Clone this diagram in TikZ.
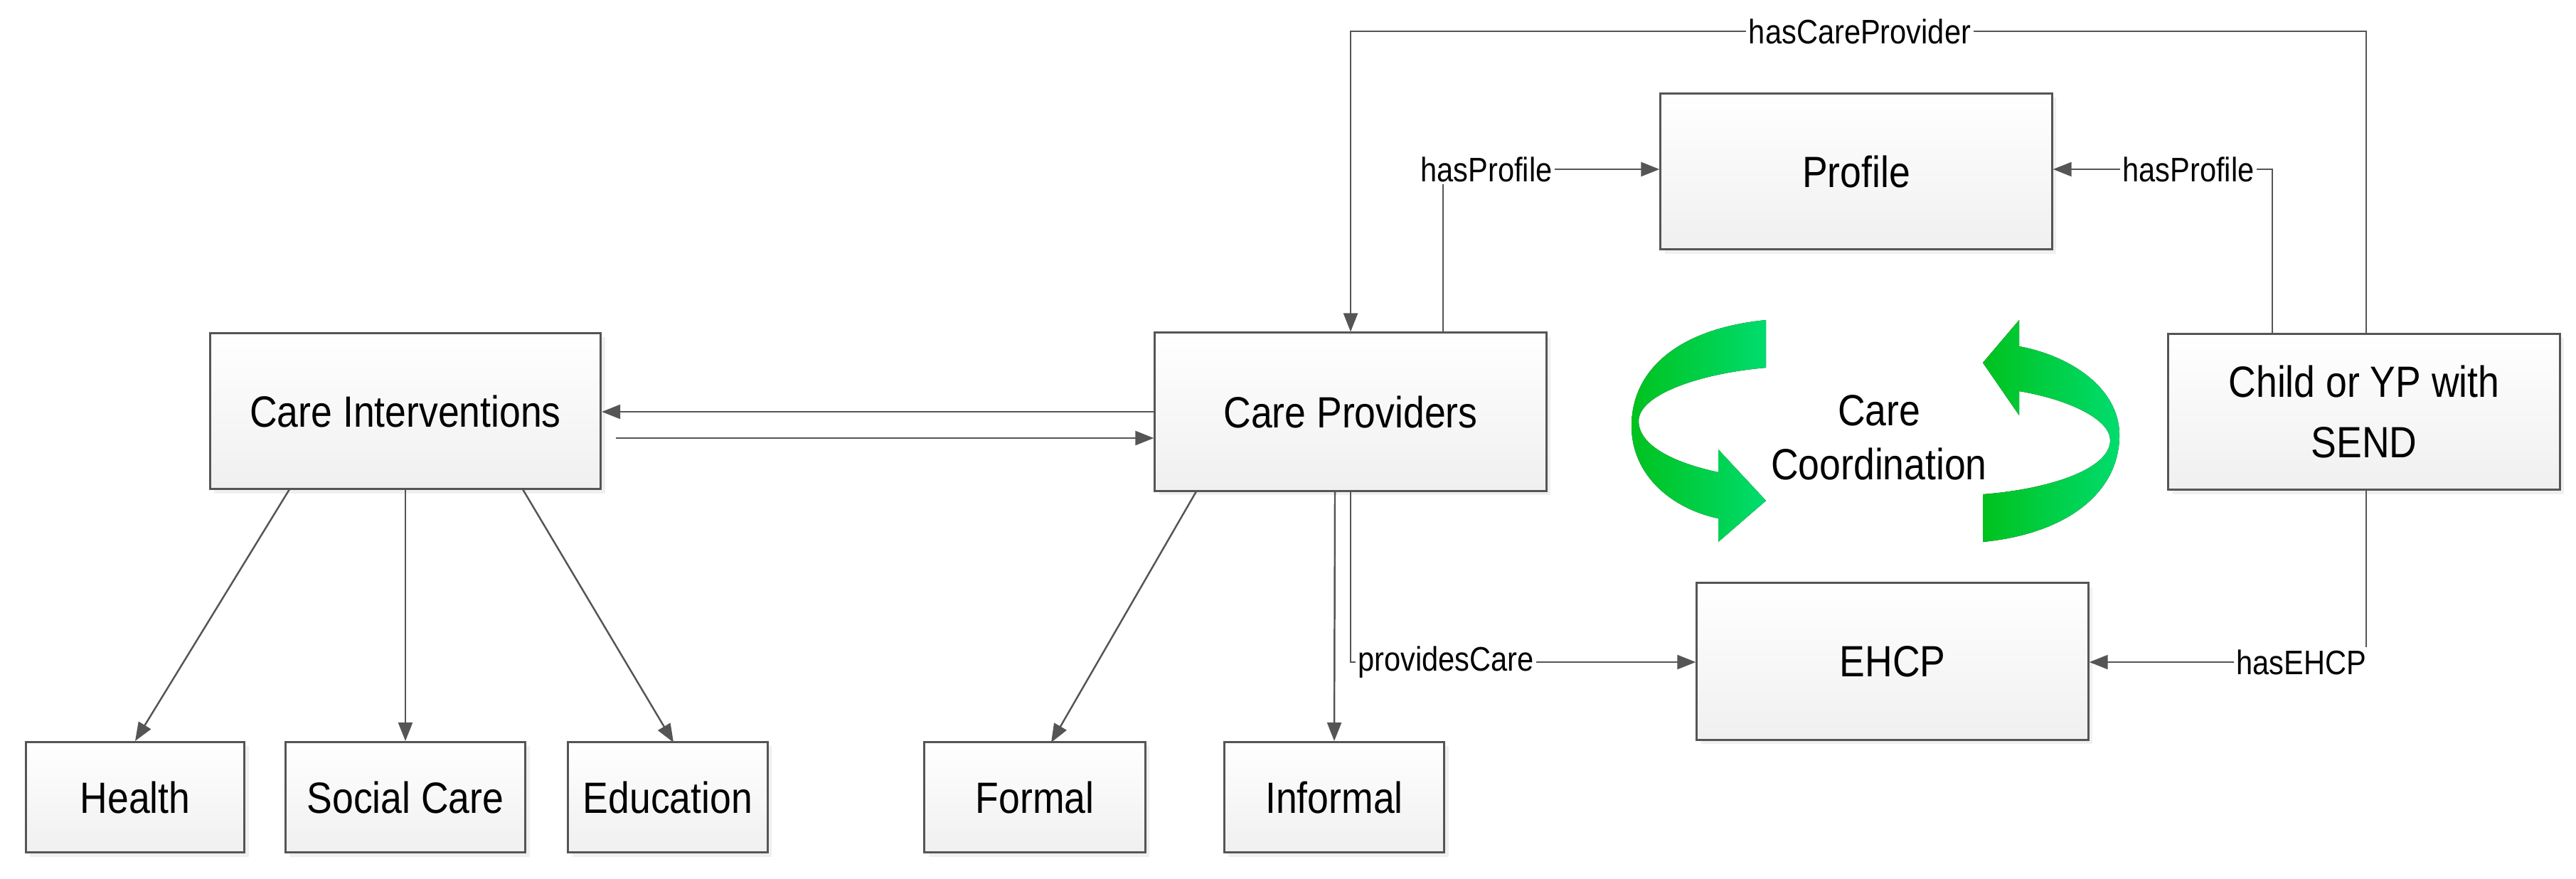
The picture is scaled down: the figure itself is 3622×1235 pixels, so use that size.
\documentclass[tikz,border=0pt]{standalone}
\usepackage{fontspec}
\setmainfont{Liberation Sans}[FakeStretch=0.87]
\usetikzlibrary{arrows.meta,shadows}
\definecolor{ln}{HTML}{555555}
\definecolor{gA}{HTML}{00C21E}
\definecolor{gB}{HTML}{00DC6E}
\begin{document}
\begin{tikzpicture}[x=0.01cm,y=-0.01cm,
  box/.style={draw=ln,line width=0.85pt,top color=white,bottom color=black!6,
    drop shadow={opacity=0.12,shadow xshift=0.06cm,shadow yshift=-0.06cm},
    font=\fontsize{17.5}{22}\selectfont,align=center,inner sep=0pt},
  con/.style={draw=ln,line width=0.7pt},
  arr/.style={con,-{Triangle[length=0.26cm,width=0.2cm]}},
  lab/.style={fill=white,inner sep=1pt,font=\fontsize{13.6}{16}\selectfont},
  green/.style={left color=gA,right color=gB,draw=none}]
\useasboundingbox (0,0) rectangle (3622,1235);
% boxes
\node[box,minimum width=5.49cm,minimum height=2.19cm] (ci) at (570,578) {Care Interventions};
\node[box,minimum width=5.50cm,minimum height=2.22cm] (cp) at (1899,579) {Care Providers};
\node[box,minimum width=5.50cm,minimum height=2.19cm] (pr) at (2610,241) {Profile};
\node[box,minimum width=5.50cm,minimum height=2.19cm,font=\fontsize{17.5}{24}\selectfont] (ch) at (3324,579) {Child or YP with\\SEND};
\node[box,minimum width=5.50cm,minimum height=2.20cm] (eh) at (2661,930) {EHCP};
\node[box,minimum width=3.07cm,minimum height=1.55cm] (he) at (190,1121) {Health};
\node[box,minimum width=3.37cm,minimum height=1.55cm] (sc) at (570,1121) {Social Care};
\node[box,minimum width=2.80cm,minimum height=1.55cm] (ed) at (939,1121) {Education};
\node[box,minimum width=3.10cm,minimum height=1.55cm] (fo) at (1455,1121) {Formal};
\node[box,minimum width=3.09cm,minimum height=1.55cm] (in) at (1876,1121) {Informal};
% green cycle arrows
\fill[green] (2483,450) .. controls (2360,462) and (2294,520) .. (2294,599)
  .. controls (2294,668) and (2350,715) .. (2416,729) -- (2416,762) -- (2483,704) -- (2416,632) -- (2416,664)
  .. controls (2350,650) and (2304,625) .. (2304,592)
  .. controls (2304,555) and (2390,525) .. (2483,517) -- cycle;
\fill[green] (2788,762) .. controls (2910,750) and (2980,690) .. (2980,612)
  .. controls (2980,545) and (2910,500) .. (2839,487) -- (2839,450) -- (2788,510) -- (2839,584) -- (2839,550)
  .. controls (2910,562) and (2967,590) .. (2967,619)
  .. controls (2967,660) and (2880,688) .. (2788,695) -- cycle;
\node[font=\fontsize{17.5}{21.5}\selectfont,align=center] (cc) at (2642,615) {Care\\Coordination};
% connectors
\coordinate (cpr) at (3327,44);
\coordinate (cpl) at (1899,44);
\draw[arr] (ch.north -| cpr) -- (cpr) -- (cpl) -- (cp.north -| cpl);
\node[lab] at (2615,44) {hasCareProvider};
\coordinate (hpl) at (2029,238);
\draw[arr] (cp.north -| hpl) -- (hpl) -- (hpl -| pr.west);
\node[lab] at (2090,238) {hasProfile};
\coordinate (hpr) at (3195,238);
\draw[arr] (ch.north -| hpr) -- (hpr) -- (hpr -| pr.east);
\node[lab] at (3077,238) {hasProfile};
\coordinate (pcc) at (1899,931);
\draw[arr] (cp.south -| pcc) -- (pcc) -- (pcc -| eh.west);
\node[lab] at (2033,931) {providesCare};
\coordinate (hec) at (3327,931);
\draw[arr] (ch.south -| hec) -- (hec) -- (hec -| eh.east);
\node[lab] at (3236,931) {hasEHCP};
\coordinate (u) at (1624,579);
\draw[arr] (cp.west) -- (cp.west -| ci.east);
\coordinate (l1) at (866,616);
\draw[arr] (l1) -- (l1 -| cp.west);
\draw[arr] (407,688) -- (he.north);
\draw[arr] (ci.south) -- (sc.north);
\draw[arr] (735,688) -- (947,1044);
\draw[arr] (1682,691) -- (1478,1044);
\draw[arr] (1877,691) -- (in.north);
\end{tikzpicture}
\end{document}
